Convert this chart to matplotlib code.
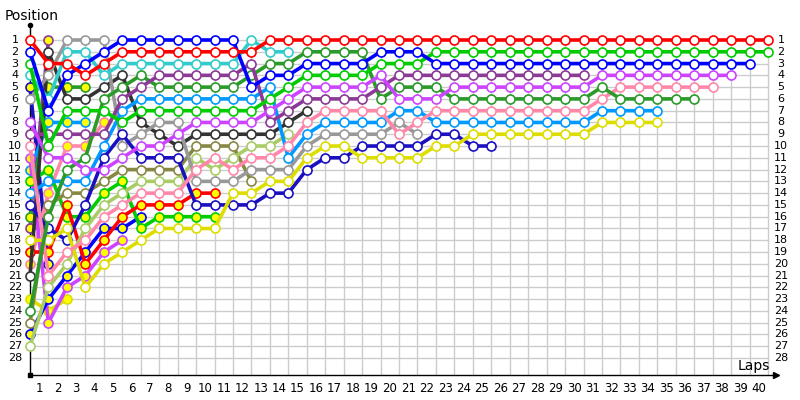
import matplotlib
matplotlib.use("Agg")
import matplotlib.pyplot as plt

# race positions per lap (index = lap, lap 0 = grid)
red = [1, 3, 3, 4, 3, 2, 2, 2, 2, 2, 2, 2, 2,
       1, 1, 1, 1, 1, 1, 1, 1, 1, 1, 1, 1, 1, 1, 1, 1, 1, 1, 1, 1, 1, 1, 1, 1, 1, 1, 1, 1]
blue = [2, 7, 4, 3, 2, 1, 1, 1, 1, 1, 1, 1, 5, 4, 4, 3, 3, 3, 3, 2, 2, 2,
        3, 3, 3, 3, 3, 3, 3, 3, 3, 3, 3, 3, 3, 3, 3, 3, 3, 3]
lime = [3, 10, 7, 7, 7, 8, 7, 7, 7, 7, 7, 7, 7, 6, 5, 4, 4, 4, 4, 3, 3, 3,
        2, 2, 2, 2, 2, 2, 2, 2, 2, 2, 2, 2, 2, 2, 2, 2, 2, 2, 2]
violet = [8, 11, 11, 12, 12, 11, 10, 10, 9, 8, 8, 8, 8, 7, 6, 5, 5, 5, 5, 4, 6, 6, 6,
          5, 5, 5, 5, 5, 5, 5, 5, 4, 4, 4, 4, 4, 4, 4, 4]
pink = [10, 21, 19, 18, 16, 15, 14, 14, 14, 12, 11, 12, 11, 11, 10, 8, 7, 7, 7, 7, 9, 8,
        7, 7, 7, 7, 7, 7, 7, 7, 7, 6, 5, 5, 5, 5, 5, 5]
forest = [24, 16, 12, 11, 6, 5, 4, 5, 5, 5, 5, 5, 4, 3, 3, 2, 2, 2, 2, 6, 5, 5, 5,
          6, 6, 6, 6, 6, 6, 6, 6, 5, 6, 6, 6, 6, 6]
sky = [14, 13, 13, 13, 10, 7, 6, 6, 6, 6, 6, 6, 6, 5, 11, 9, 8, 8, 8, 8, 7, 7,
       8, 8, 8, 8, 8, 8, 8, 8, 8, 7, 7, 7, 7]
yellow = [18, 18, 17, 22, 20, 19, 18, 17, 17, 17, 17, 14, 14, 13, 13, 11, 10, 10, 11, 11, 11, 11,
          10, 10, 9, 9, 9, 9, 9, 9, 9, 8, 8, 8, 8]
purple = [9, 9, 9, 9, 9, 6, 5, 4, 4, 4, 4, 4, 3, 8, 7, 6, 6, 6, 6, 5,
          4, 4, 4, 4, 4, 4, 4, 4, 4, 4, 4]
navy = [15, 17, 18, 15, 11, 9, 11, 11, 11, 15, 15, 15, 15, 14, 14, 12, 11, 11, 10, 10, 10, 10,
        9, 9, 10, 10]
gray = [6, 4, 1, 1, 1, 10, 9, 8, 8, 13, 13, 13, 12, 12, 12, 10, 9, 9, 9, 9, 8, 9]
black = [21, 2, 6, 6, 5, 4, 8, 9, 10, 9, 9, 9, 9, 9, 8, 7]
cyan = [4, 6, 2, 2, 4, 3, 3, 3, 3, 3, 3, 3, 1, 2, 2]
lightgreen = [27, 22, 20, 17, 15, 14, 13, 13, 13, 11, 12, 11, 10, 10, 9]
olive = [25, 15, 14, 14, 13, 12, 12, 12, 12, 10, 10, 10, 13]
red_2 = [19, 19, 15, 20, 18, 16, 15, 15, 15, 14, 14]
lime_2 = [13, 12, 16, 16, 14, 13, 17, 16, 16, 16, 16]
blue_2 = [26, 23, 21, 19, 17, 17, 16]
violet_2 = [11, 25, 22, 21, 19, 18]
pink_2 = [20, 14, 10, 10, 8]
sky_2 = [12, 8, 8, 8]
forest_2 = [16, 5, 5, 5]
yellow_2 = [23, 24, 23]
navy_2 = [5, 20]
purple_2 = [17, 1]

n_positions = 28
n_laps = 40

# (series, line colour, marker fill) - drawn in this order
drivers = [
    (purple_2, '#8b3a96', '#ffff00'), (navy_2, '#1a10c0', '#ffff00'),
    (yellow_2, '#dddd00', '#ffff00'), (forest_2, '#2a9a2a', '#ffff00'),
    (sky_2, '#0099ff', '#ffff00'), (pink_2, '#ff88aa', '#ffff00'),
    (violet_2, '#cc44ff', '#ffff00'), (blue_2, '#0000ff', '#ffff00'),
    (lime_2, '#00cc00', '#ffff00'), (red_2, '#ff0000', '#ffff00'),
    (olive, '#888844', 'white'), (lightgreen, '#aacc66', 'white'),
    (black, '#333333', 'white'), (gray, '#999999', 'white'),
    (navy, '#1a10c0', 'white'), (yellow, '#dddd00', 'white'),
    (sky, '#0099ff', 'white'), (pink, '#ff88aa', 'white'),
    (forest, '#2a9a2a', 'white'), (purple, '#8b3a96', 'white'),
    (violet, '#cc44ff', 'white'), (cyan, '#33cccc', 'white'),
    (lime, '#00cc00', 'white'), (blue, '#0000ff', 'white'),
    (red, '#ff0000', 'white'),
]

fig = plt.figure(figsize=(8, 4), dpi=100)
ax = fig.add_axes([30 / 800, 25 / 400, 760 / 800, 350 / 400])
lap_px, pos_px = 18.45, 11.78
xmax = 760 / lap_px
ybot = 1 + 335 / pos_px
ytop = 1 - 15 / pos_px
ax.set_xlim(0, xmax)
ax.set_ylim(ybot, ytop)
ax.axis('off')

# grid
for p in range(1, n_positions + 1):
    ax.plot([0, n_laps], [p, p], color='#cccccc', lw=1, zorder=0)
for k in range(1, n_laps + 1):
    ax.plot([k, k], [1, ybot], color='#cccccc', lw=1, zorder=0)

# axes with arrows
ax.plot([0, 0], [ybot, ytop], color='black', lw=1, zorder=1, clip_on=False)
ax.plot([0, 40.5], [ybot, ybot], color='black', lw=1, zorder=1, clip_on=False)
ax.plot([0], [ytop], marker='o', ms=3, color='black', clip_on=False)
ax.plot([0], [ybot], marker='s', ms=2.5, color='black', clip_on=False)
ax.plot([40.45], [ybot], marker='>', ms=5, color='black', clip_on=False)

for series, color, fill in drivers:
    laps = list(range(len(series)))
    ax.plot(laps, series, color=color, lw=2.6, marker='o', ms=6.5,
            mfc=fill, mec=color, mew=1.2, zorder=3, clip_on=False)

# position labels left and right, lap labels below
for p in range(1, n_positions + 1):
    ax.text(-15 / lap_px, p, str(p), ha='center', va='center', fontsize=8)
    ax.text(751 / lap_px, p, str(p), ha='center', va='center', fontsize=8)
for k in range(1, n_laps + 1):
    ax.text(k - 0.5, ybot + 14 / pos_px, str(k), ha='center', va='center', fontsize=8.5)

fig.text(5 / 800, 1 - 16 / 400, 'Position', ha='left', va='center', fontsize=10)
fig.text(770 / 800, 1 - 366 / 400, 'Laps', ha='right', va='center', fontsize=10)

fig.savefig('out.png', dpi=100)
